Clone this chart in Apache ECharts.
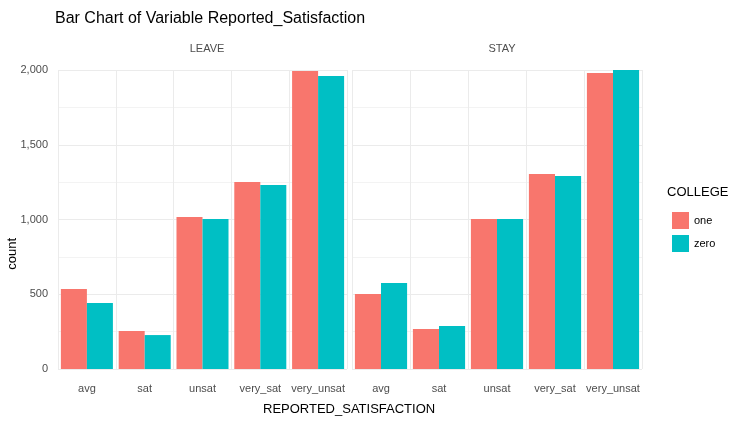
<!DOCTYPE html>
<html>
<head>
<meta charset="UTF-8" />
<script src="https://cdn.jsdelivr.net/npm/echarts@6/dist/echarts.min.js"></script>
</head>
<body style="margin:0">
<div id="c" style="width:749px;height:428px"></div>
<script>
var categories = ["avg", "sat", "unsat", "very_sat", "very_unsat"];
var leaveOne = [535, 254, 1017, 1251, 1993];
var leaveZero = [441, 227, 1003, 1231, 1960];
var stayOne = [502, 268, 1003, 1304, 1980];
var stayZero = [575, 288, 1003, 1291, 2000];
var yTicks = [0, 500, 1000, 1500, 2000];

var red = "#F8766D", teal = "#00BFC4";
var txt = "#4d4d4d";
var chart = echarts.init(document.getElementById("c"));

function xAxis(i) {
  return {
    type: "category", gridIndex: i, data: categories,
    axisLine: { show: false }, axisTick: { show: false },
    axisLabel: { color: txt, fontSize: 11, margin: 14, interval: 0 },
    splitLine: { show: true, lineStyle: { color: "#ebebeb" } }
  };
}
function yAxis(i) {
  return {
    type: "value", gridIndex: i, min: 0, max: 2000, interval: 500,
    axisLabel: { show: i === 0, color: txt, fontSize: 11, margin: 10 },
    splitLine: { lineStyle: { color: "#ebebeb" } },
    minorTick: { show: false, splitNumber: 2 },
    minorSplitLine: { show: true, lineStyle: { color: "#f3f3f3" } }
  };
}
function bar(name, data, color, i) {
  return {
    name: name, type: "bar", data: data, xAxisIndex: i, yAxisIndex: i,
    itemStyle: { color: color }, barGap: "0%", barCategoryGap: "10%"
  };
}

chart.setOption({
  animation: false,
  textStyle: { fontFamily: "Liberation Sans, Arial" },
  title: [
    { text: "Bar Chart of Variable Reported_Satisfaction", left: 50, top: 6,
      textStyle: { fontSize: 16, fontWeight: "normal", color: "#000" } },
    { text: "LEAVE", left: 202, top: 38, textAlign: "center",
      textStyle: { fontSize: 11, fontWeight: "normal", color: txt } },
    { text: "STAY", left: 497, top: 38, textAlign: "center",
      textStyle: { fontSize: 11, fontWeight: "normal", color: txt } }
  ],
  legend: {
    data: ["one", "zero"], orient: "vertical", left: 667, top: 207,
    icon: "rect", itemWidth: 17, itemHeight: 17, itemGap: 6,
    textStyle: { fontSize: 11, color: "#000" }
  },
  graphic: [
    { type: "text", left: 667, top: 186, style: { text: "COLLEGE", fontSize: 13, fill: "#000" } },
    { type: "text", left: 263, top: 403, style: { text: "REPORTED_SATISFACTION", fontSize: 13, fill: "#000" } },
    { type: "text", left: 6, top: 238, rotation: Math.PI / 2, style: { text: "count", fontSize: 13, fill: "#000" } }
  ],
  grid: [
    { left: 58, width: 289, top: 70, bottom: 59 },
    { left: 352, width: 290, top: 70, bottom: 59 }
  ],
  xAxis: [xAxis(0), xAxis(1)],
  yAxis: [yAxis(0), yAxis(1)],
  series: [
    bar("one", leaveOne, red, 0), bar("zero", leaveZero, teal, 0),
    bar("one", stayOne, red, 1), bar("zero", stayZero, teal, 1)
  ]
});
</script>
</body>
</html>
